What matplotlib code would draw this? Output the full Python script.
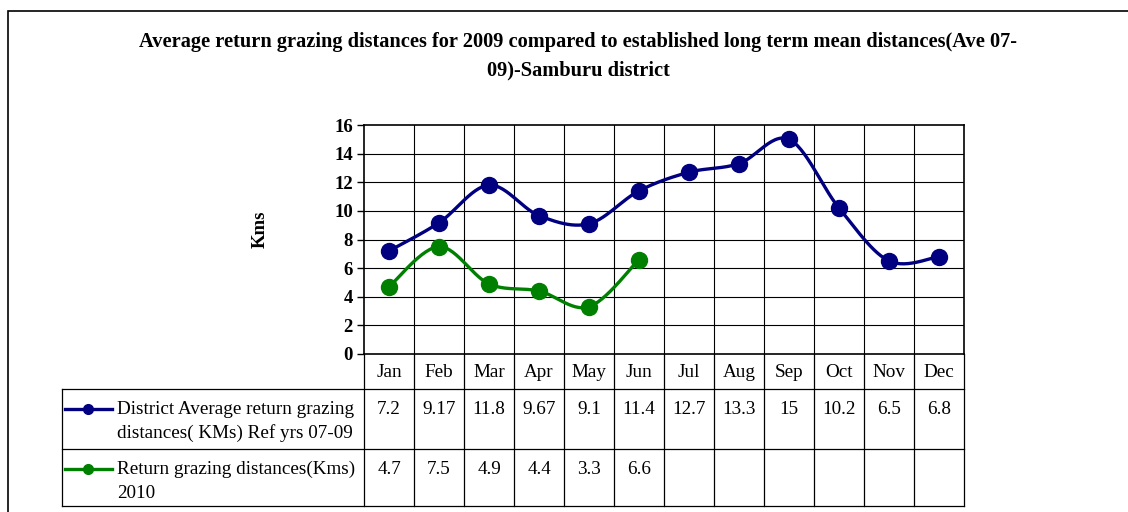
import numpy as np
import matplotlib.pyplot as plt
from matplotlib.lines import Line2D
from matplotlib.patches import Rectangle

plt.rcParams['font.family'] = ['Liberation Serif', 'DejaVu Serif']

months = ['Jan', 'Feb', 'Mar', 'Apr', 'May', 'Jun', 'Jul', 'Aug', 'Sep', 'Oct', 'Nov', 'Dec']
ref_avg = [7.2, 9.17, 11.8, 9.67, 9.1, 11.4, 12.7, 13.3, 15, 10.2, 6.5, 6.8]
ret_2010 = [4.7, 7.5, 4.9, 4.4, 3.3, 6.6]
ref_label = ['District Average return grazing', 'distances( KMs) Ref yrs 07-09']
ret_label = ['Return grazing distances(Kms)', '2010']
title_lines = ['Average return grazing distances for 2009 compared to established long term mean distances(Ave 07-',
               '09)-Samburu district']

NAVY = '#000080'
GREEN = '#008000'

W, H = 1128, 512


def smooth(xs, ys, n=30):
    # Excel-like smoothed line: cubic bezier segments through the points
    pts = np.column_stack([np.asarray(xs, float), np.asarray(ys, float)])
    out = []
    for i in range(len(pts) - 1):
        p0 = pts[i - 1] if i > 0 else pts[i]
        p1 = pts[i]
        p2 = pts[i + 1]
        p3 = pts[i + 2] if i + 2 < len(pts) else pts[i + 1]
        c1 = p1 + (p2 - p0) / 6.0
        c2 = p2 - (p3 - p1) / 6.0
        t = np.linspace(0, 1, n)[:, None]
        seg = ((1 - t) ** 3) * p1 + 3 * ((1 - t) ** 2) * t * c1 + 3 * (1 - t) * t ** 2 * c2 + t ** 3 * p2
        out.append(seg)
    c = np.vstack(out)
    return c[:, 0], c[:, 1]


def fx(px):
    return px / W


def fy(py):
    return 1 - py / H


fig = plt.figure(figsize=(W / 100, H / 100), dpi=100)

# outer chart border (runs off the right/bottom of the picture)
fig.patches.append(Rectangle((fx(8), fy(1000)), fx(1200), fy(11) - fy(1000),
                             transform=fig.transFigure, fill=False, edgecolor='black', linewidth=1.2))

fig.text(fx(578), fy(42), title_lines[0], ha='center', va='center', fontsize=14.7, fontweight='bold')
fig.text(fx(578), fy(70), title_lines[1], ha='center', va='center', fontsize=14.7, fontweight='bold')

# plot area
x0, x1, y_top, y_bot = 364, 964, 125, 354
ax = fig.add_axes([fx(x0), fy(y_bot), fx(x1 - x0), fy(y_top) - fy(y_bot)])
n = len(months)
ax.set_xlim(0, n)
ax.set_ylim(0, 16)
ax.set_yticks(np.arange(0, 17, 2))
ax.set_xticks([])
for lbl in ax.get_yticklabels():
    lbl.set_fontweight('bold')
ax.tick_params(axis='y', labelsize=13.5, length=5, width=1, direction='out', pad=3)
for v in np.arange(2, 16, 2):
    ax.axhline(v, color='black', linewidth=0.8, zorder=1)
for k in range(1, n):
    ax.axvline(k, color='black', linewidth=0.8, zorder=1)
for s in ax.spines.values():
    s.set_linewidth(1.2)
fig.text(fx(260), fy(229), 'Kms', rotation=90, ha='center', va='center', fontsize=13.5, fontweight='bold')

xc = np.arange(n) + 0.5
sx, sy = smooth(xc, ref_avg)
ax.plot(sx, sy, color=NAVY, linewidth=2.4, zorder=3, solid_capstyle='round')
ax.plot(xc, ref_avg, 'o', color=NAVY, markersize=11.5, zorder=4)
xg = xc[:len(ret_2010)]
sx, sy = smooth(xg, ret_2010)
ax.plot(sx, sy, color=GREEN, linewidth=2.4, zorder=3, solid_capstyle='round')
ax.plot(xg, ret_2010, 'o', color=GREEN, markersize=11.5, zorder=4)

# data table below the plot
tl, tr, tt, tb = 62, 964, 354, 506
r1, r2 = 389, 449
tab = fig.add_axes([fx(tl), fy(tb), fx(tr - tl), fy(tt) - fy(tb)])
tab.set_xlim(tl, tr)
tab.set_ylim(tb, tt)
tab.axis('off')
lw = 0.9
col_w = (x1 - x0) / n
for k in range(n + 1):
    xx = x0 + k * col_w
    tab.plot([xx, xx], [tt, tb], color='black', linewidth=lw, clip_on=False)
tab.plot([tl, tr], [r1, r1], color='black', linewidth=lw, clip_on=False)
tab.plot([tl, tr], [r2, r2], color='black', linewidth=lw, clip_on=False)
tab.plot([tl, tr], [tb, tb], color='black', linewidth=lw, clip_on=False)
tab.plot([tl, tl], [r1, tb], color='black', linewidth=lw, clip_on=False)

fs = 13.8
for k, m in enumerate(months):
    tab.text(x0 + (k + 0.5) * col_w, (tt + r1) / 2 + 1, m, ha='center', va='center', fontsize=fs)
for k, v in enumerate(ref_avg):
    tab.text(x0 + (k + 0.5) * col_w, 409, f'{v:g}', ha='center', va='center', fontsize=fs)
for k, v in enumerate(ret_2010):
    tab.text(x0 + (k + 0.5) * col_w, 469, f'{v:g}', ha='center', va='center', fontsize=fs)

for (lines, col, ytop) in [(ref_label, NAVY, 409), (ret_label, GREEN, 469)]:
    tab.add_line(Line2D([65, 112], [ytop, ytop], color=col, linewidth=2.4))
    tab.plot([88], [ytop], 'o', color=col, markersize=7)
    tab.text(117, ytop, lines[0], ha='left', va='center', fontsize=fs)
    tab.text(117, ytop + 24, lines[1], ha='left', va='center', fontsize=fs)

fig.savefig('out.png', dpi=100)
